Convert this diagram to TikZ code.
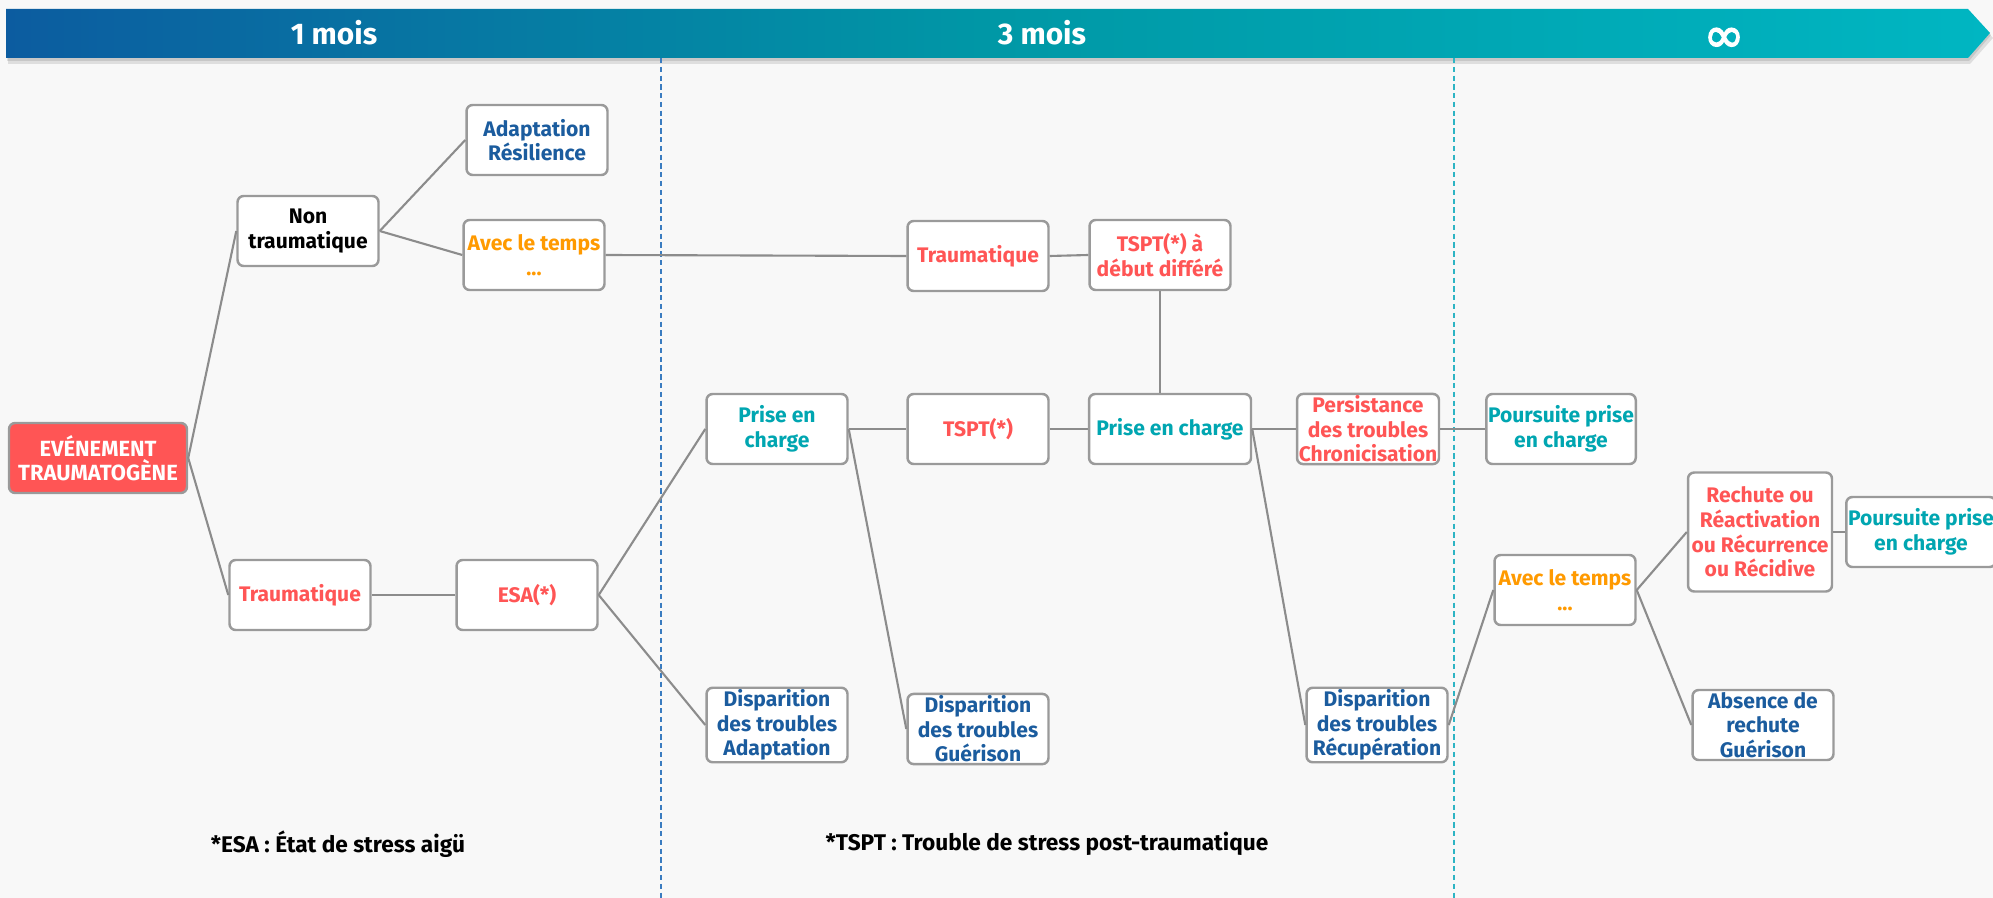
\documentclass[tikz,border=0pt]{standalone}
\usepackage{fontspec}
\setmainfont{Fira Sans}
\newfontfamily\inffont[FakeBold=2.5]{DejaVu Sans}

\definecolor{bgcol}{HTML}{F8F8F8}
\definecolor{barL}{RGB}{12,92,160}
\definecolor{barM}{RGB}{0,152,166}
\definecolor{barR}{RGB}{0,182,194}
\definecolor{boxgray}{HTML}{9A9A9A}
\definecolor{linkgray}{HTML}{8C8C8C}
\definecolor{redtxt}{HTML}{FF5555}
\definecolor{bluetxt}{HTML}{1B5C9E}
\definecolor{tealtxt}{HTML}{00A6B1}
\definecolor{orangetxt}{HTML}{FF9A00}
\definecolor{dashblue}{HTML}{3A7CC0}
\definecolor{dashteal}{HTML}{2DB4C4}

\tikzset{
  box/.style={draw=boxgray, line width=1.4pt, rounded corners=3.5pt, fill=white,
    minimum width=2.82cm, minimum height=1.40cm, inner sep=1pt, align=center,
    font=\fontsize{12}{14}\selectfont\bfseries},
  txtred/.style={text=redtxt},
  txtblue/.style={text=bluetxt},
  txtteal/.style={text=tealtxt},
  txtorange/.style={text=orangetxt},
  link/.style={draw=linkgray, line width=1.2pt},
  bannertxt/.style={text=white, font=\fontsize{17}{20}\selectfont\bfseries},
  note/.style={font=\fontsize{12.9}{15}\selectfont\bfseries},
}

\begin{document}
\begin{tikzpicture}[x=0.02cm, y=-0.02cm]
  % ----- background -----
  \fill[bgcol] (0,0) rectangle (1993,898);
  \useasboundingbox (0,0) rectangle (1993,898);

  % ----- time banner -----
  \fill[black, opacity=0.10] (8,14) -- (1970,14) -- (1993,38) -- (1970,64) -- (8,64) -- cycle;
  \fill[black, opacity=0.10] (7,11) -- (1969,11) -- (1991,35) -- (1969,61) -- (7,61) -- cycle;
  \shade[left color=barL, right color=barR, middle color=barM]
    (6,9) -- (1968,9) -- (1990,33) -- (1968,58) -- (6,58) -- cycle;
  \node[bannertxt] (m1) at (334,33) {1 mois};
  \node[bannertxt] (m3) at (1042,33) {3 mois};
  \node[bannertxt, font=\inffont\fontsize{28}{30}\selectfont] (minf) at (1724,40) {∞};

  % ----- period limits -----
  \draw[dashblue, line width=0.6pt, dash pattern=on 3pt off 2pt] (661,58) -- (661,898);
  \draw[dashteal, line width=0.6pt, dash pattern=on 3pt off 2pt] (1454,58) -- (1454,898);

  % ----- 1 mois -----
  \node[box, fill=redtxt, text=white, minimum width=3.56cm,
    font=\fontsize{12.5}{14}\selectfont\bfseries] (evt) at (98,458) {EVÉNEMENT\\TRAUMATOGÈNE};
  \node[box] (nontrau) at (308,231) {Non\\traumatique};
  \node[box, txtblue] (adapt) at (537,140) {Adaptation\\Résilience};
  \node[box, txtorange] (temps1) at (534,255) {Avec le temps\\...};
  \node[box, txtred] (trauB) at (300,595) {Traumatique};
  \node[box, txtred] (esa) at (527,595) {ESA(*)};

  % ----- 3 mois -----
  \node[box, txtred] (trauH) at (978,256) {Traumatique};
  \node[box, txtred] (tsptdiff) at (1160,255) {TSPT(*) à\\début différé};
  \node[box, txtteal] (pec1) at (777,429) {Prise en\\charge};
  \node[box, txtred] (tspt) at (978,429) {TSPT(*)};
  \node[box, txtteal, minimum width=3.24cm] (pec2) at (1170,429) {Prise en charge};
  \node[box, txtred] (persist) at (1368,429) {Persistance\\des troubles\\Chronicisation};
  \node[box, txtblue] (dispA) at (777,725) {Disparition\\des troubles\\Adaptation};
  \node[box, txtblue] (dispG) at (978,729) {Disparition\\des troubles\\Guérison};
  \node[box, txtblue] (dispR) at (1377,725) {Disparition\\des troubles\\Récupération};

  % ----- long terme -----
  \node[box, txtteal] (pours1) at (1561,429) {Poursuite prise\\en charge};
  \node[box, txtorange] (temps2) at (1565,590) {Avec le temps\\...};
  \node[box, txtred, minimum width=2.88cm, minimum height=2.38cm] (rechute) at (1760,532)
    {Rechute ou\\Réactivation\\ou Récurrence\\ou Récidive};
  \node[box, txtteal] (pours2) at (1921,532) {Poursuite prise\\en charge};
  \node[box, txtblue] (absence) at (1763,725) {Absence de\\rechute\\Guérison};

  % ----- connectors -----
  \draw[link] (evt.east) -- (nontrau.west);
  \draw[link] (evt.east) -- (trauB.west);
  \draw[link] (nontrau.east) -- (adapt.west);
  \draw[link] (nontrau.east) -- (temps1.west);
  \draw[link] (temps1.east) -- (trauH.west);
  \draw[link] (trauH.east) -- (tsptdiff.west);
  \draw[link] (tsptdiff.south) -- (tsptdiff.south |- pec2.north);
  \draw[link] (trauB.east) -- (esa.west);
  \draw[link] (esa.east) -- (pec1.west);
  \draw[link] (esa.east) -- (dispA.west);
  \draw[link] (pec1.east) -- (tspt.west);
  \draw[link] (pec1.east) -- (dispG.west);
  \draw[link] (tspt.east) -- (pec2.west);
  \draw[link] (pec2.east) -- (persist.west);
  \draw[link] (pec2.east) -- (dispR.west);
  \draw[link] (persist.east) -- (pours1.west);
  \draw[link] (dispR.east) -- (temps2.west);
  \draw[link] (temps2.east) -- (rechute.west);
  \draw[link] (temps2.east) -- (absence.west);
  \draw[link] (rechute.east) -- (pours2.west);

  % ----- notes -----
  \node[note] (fn1) at (338,844) {*ESA : État de stress aigü};
  \node[note] (fn2) at (1047,844) {*TSPT : Trouble de stress post-traumatique};
\end{tikzpicture}
\end{document}
